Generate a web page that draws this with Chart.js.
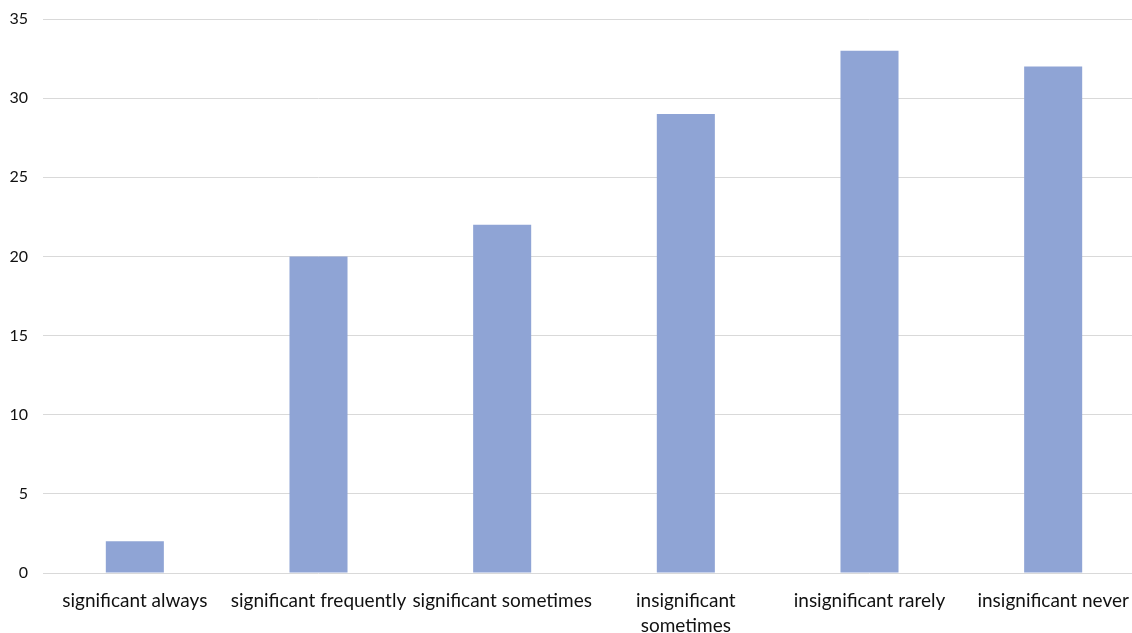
<!DOCTYPE html>
<html>
<head>
<meta charset="utf-8">
<script src="https://cdn.jsdelivr.net/npm/chart.js@4"></script>
<style>
  html, body { margin: 0; padding: 0; background: #fff; overflow: hidden; }
  #wrap { width: 1145px; height: 633px; position: relative; }
</style>
</head>
<body>
<div id="wrap"><canvas id="barChart"></canvas></div>
<script>
// dati
const categories = [
    'significant always',
    'significant frequently',
    'significant sometimes',
    ['insignificant', 'sometimes'],
    'insignificant rarely',
    'insignificant never'
];
const counts = [2, 20, 22, 29, 33, 32];
const yTicks = [0, 5, 10, 15, 20, 25, 30, 35];

const ctx = document.getElementById('barChart').getContext('2d');

new Chart(ctx, {
    type: 'bar',
    data: {
        labels: categories,
        datasets: [{
            data: counts,
            backgroundColor: '#8FA4D5',
            barPercentage: 0.316,
            categoryPercentage: 1
        }]
    },
    options: {
        responsive: true,
        maintainAspectRatio: false,
        animation: false,
        layout: { padding: { top: 19, left: 0, right: 0, bottom: 0 } },
        plugins: {
            legend: { display: false },
            tooltip: { enabled: false }
        },
        scales: {
            x: {
                grid: { display: false },
                border: { display: false },
                ticks: {
                    color: '#111',
                    font: { family: 'Lato', size: 19, lineHeight: 1.32 },
                    padding: 7,
                    maxRotation: 0,
                    autoSkip: false
                },
                afterFit: (scale) => { scale.height = 60; }
            },
            y: {
                min: 0,
                max: 35,
                afterBuildTicks: (scale) => {
                    scale.ticks = yTicks.map(v => ({ value: v }));
                },
                grid: { color: '#d9d9d9', lineWidth: 1, drawTicks: false },
                border: { display: false },
                ticks: {
                    color: '#111',
                    font: { family: 'Lato', size: 16 },
                    padding: 15
                },
                afterFit: (scale) => {
                    scale.width = 43;
                    scale.paddingTop = 0;
                    scale.paddingBottom = 0;
                }
            }
        }
    }
});
</script>
</body>
</html>
